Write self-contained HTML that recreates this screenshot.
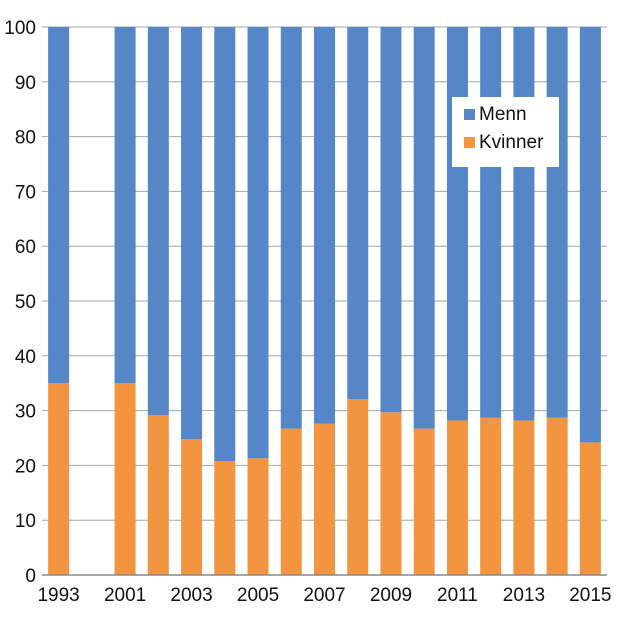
<!DOCTYPE html>
<html><head><meta charset="utf-8"><style>body{margin:0;background:#fff}svg text{font-family:"Liberation Sans",Arial,sans-serif}</style></head>
<body>
<svg id="c" width="620" height="621"></svg>
<script>
const categories=["1993","","2001","2002","2003","2004","2005","2006","2007","2008","2009","2010","2011","2012","2013","2014","2015"];
const kvinner=[35,null,35,29.2,24.8,20.8,21.3,26.7,27.6,32.1,29.7,26.7,28.2,28.7,28.2,28.7,24.2];
const menn=kvinner.map(v=>v==null?null:100-v);
const yTicks=[0,10,20,30,40,50,60,70,80,90,100];
const NS="http://www.w3.org/2000/svg",s=document.getElementById('c');
const L=42,R=607,T=27,B=575;
const y=v=>B-(v/100)*(B-T);
const step=(R-L)/categories.length;
const x=i=>L+step*(i+0.5);
function el(t,a,txt){const e=document.createElementNS(NS,t);for(const k in a)e.setAttribute(k,a[k]);if(txt!=null)e.textContent=txt;s.appendChild(e);return e;}
yTicks.forEach(t=>{
 const g=el('line',{x1:L,x2:R,y1:y(t),y2:y(t),stroke:t?'#a6a6a6':'#898989','stroke-width':1});
 
 const tx=el('text',{x:L-6,y:y(t)+7,'text-anchor':'end','font-size':19,fill:'#111'},t);
 
});
const bw=21;
categories.forEach((c,i)=>{
 if(kvinner[i]!=null){
  const b1=el('rect',{x:x(i)-bw/2,y:y(kvinner[i]),width:bw,height:B-y(kvinner[i]),fill:'#f39441'});
  
  const b2=el('rect',{x:x(i)-bw/2,y:y(100),width:bw,height:y(kvinner[i])-y(100),fill:'#5586c8'});
  
 }
 if(i%2===0){const t=el('text',{x:x(i),y:601,'text-anchor':'middle','font-size':19,fill:'#111'},c);
 }
});
const ax=el('line',{x1:L,x2:R,y1:B,y2:B,stroke:'#898989','stroke-width':1.5});

const lg=el('rect',{x:452,y:97,width:107,height:70,fill:'#fff'});

[['Menn','#5586c8',120],['Kvinner','#f39441',148]].forEach(([n,c,yy])=>{
 const r=el('rect',{x:464,y:yy-11,width:11,height:11,fill:c});
 
 const t=el('text',{x:479,y:yy,'font-size':19,fill:'#111'},n);
 
});
</script>
</body></html>
